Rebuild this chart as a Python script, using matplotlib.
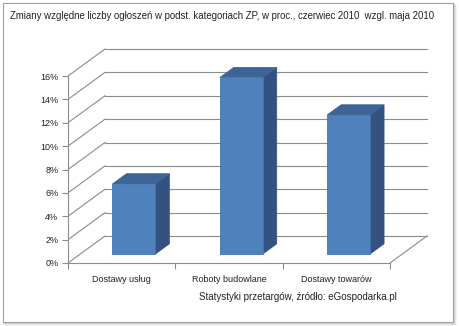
import numpy as np
import matplotlib
matplotlib.use('Agg')
import matplotlib.pyplot as plt
from matplotlib.patches import Polygon, Rectangle

# data
categories = ['Dostawy usług', 'Roboty budowlane', 'Dostawy towarów']
values = [6.0, 15.1, 11.9]
yticks = [0, 2, 4, 6, 8, 10, 12, 14, 16]
title = 'Zmiany względne liczby ogłoszeń w podst. kategoriach ZP, w proc., czerwiec 2010  wzgl. maja 2010'
source = 'Statystyki przetargów, źródło: eGospodarka.pl'

plt.rcParams['font.family'] = ['Liberation Sans', 'DejaVu Sans']

W, H = 460, 326
fig = plt.figure(figsize=(W / 100, H / 100), dpi=100)
fig.patch.set_facecolor('white')

# outer frame with soft shadow
for k, a in [(3, 0.10), (2, 0.18), (1, 0.28)]:
    fig.patches.append(Rectangle((3 / W + k / W, (H - 322 - k) / H), 450 / W, 319 / H,
                                 transform=fig.transFigure, facecolor='none',
                                 edgecolor='#808080', alpha=a, lw=1.2, zorder=-3))
fig.patches.append(Rectangle((3 / W, (H - 322) / H), 450 / W, 319 / H,
                             transform=fig.transFigure, facecolor='white',
                             edgecolor='#a0a0a0', lw=0.8, zorder=-2))

# axes: front plane x 0..3 -> px 68..390, y 0..16 -> px 263..76
px_x = 322 / 3
px_y = 187 / 16
left, right, top, bottom = 68, 432, 44, 266
ax = fig.add_axes([left / W, (H - bottom) / H, (right - left) / W, (bottom - top) / H])
ax.set_zorder(1)
ax.set_xlim(0, (right - left) / px_x)
ax.set_ylim((263 - bottom) / px_y, (263 - top) / px_y)
ax.patch.set_alpha(0)

DX = 37 / px_x   # depth offset
DY = 27 / px_y
n = len(categories)
gc = '#8c8c8c'

# walls / gridlines
for v in yticks:
    ax.plot([0, DX], [v, v + DY], color=gc, lw=0.8, zorder=1)
    ax.plot([DX, n + DX], [v + DY, v + DY], color=gc, lw=0.8, zorder=1)
ax.plot([n, n + DX], [0, DY], color=gc, lw=0.8, zorder=1)

# bars
bw = 0.40
s = 0.33   # depth where bar front sits
d = 0.38   # bar depth
front_c = '#4f81bd'
side_c = '#34527f'
top_c = '#3c6496'
for i, v in enumerate(values):
    x0 = i + 0.5 - bw / 2 + s * DX
    x1 = x0 + bw
    b = s * DY
    t = v + s * DY
    side = Polygon([(x1, b), (x1 + d * DX, b + d * DY), (x1 + d * DX, t + d * DY), (x1, t)],
                   closed=True, facecolor=side_c, edgecolor=side_c, lw=0.5, zorder=3)
    topf = Polygon([(x0, t), (x1, t), (x1 + d * DX, t + d * DY), (x0 + d * DX, t + d * DY)],
                   closed=True, facecolor=top_c, edgecolor=top_c, lw=0.5, zorder=3)
    front = Rectangle((x0, b), bw, v, facecolor=front_c, edgecolor='#4575ad', lw=0.6, zorder=4)
    ax.add_patch(side)
    ax.add_patch(topf)
    ax.add_patch(front)

# spines and ticks
for sp in ['top', 'right']:
    ax.spines[sp].set_visible(False)
ax.spines['left'].set_bounds(0, 16)
ax.spines['left'].set_color(gc)
ax.spines['bottom'].set_position(('data', 0))
ax.spines['bottom'].set_bounds(0, n)
ax.spines['bottom'].set_color(gc)

ax.set_yticks(yticks)
ax.set_yticklabels(['%d%%' % v for v in yticks])
ax.tick_params(axis='y', length=4, width=0.8, color=gc, labelsize=6.5, pad=3,
               labelcolor='#222222')
ax.set_xticks(range(n + 1))
ax.set_xticklabels([''] * (n + 1))
ax.tick_params(axis='x', which='major', length=4, width=0.8, color=gc)
ax.set_xticks([i + 0.5 for i in range(n)], minor=True)
ax.set_xticklabels(categories, minor=True)
ax.tick_params(axis='x', which='minor', length=0, labelsize=6.5, pad=9,
               labelcolor='#222222')

fig.text(10 / W, 1 - 16 / H, title, fontsize=6.9, va='center', ha='left', color='#222222')
fig.text(298 / W, 1 - 297 / H, source, fontsize=7.0, va='center', ha='center', color='#222222')

fig.savefig('out.png', dpi=100)
